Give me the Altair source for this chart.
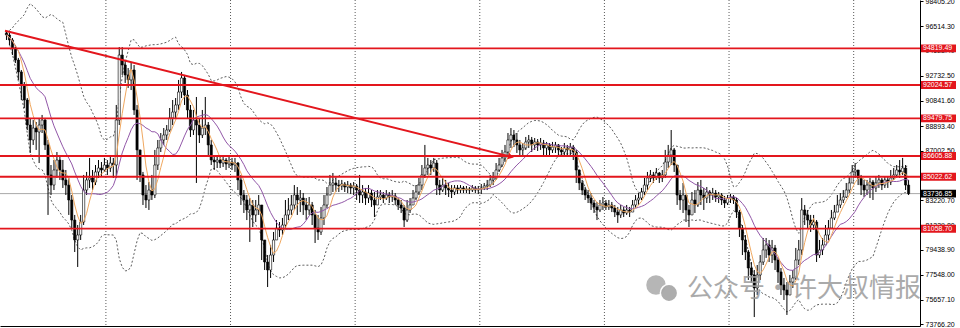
import altair as alt
import pandas as pd

# ---------------- data ----------------
closes = [
    95840, 95460, 94850, 93930, 93020, 92020, 90880, 88970, 87830, 88740,
    88440, 88970, 89350, 87450, 85160, 84390, 85540, 86300, 85540, 84780,
    84390, 83250, 81720, 80200, 80580, 81570, 84010, 84780, 84930, 84620,
    85390, 85690, 85540, 85920, 85690, 86070, 85920, 89350, 94310, 93550,
    92790, 92410, 93170, 90120, 87070, 85160, 83630, 83250, 84010, 83630,
    85920, 87220, 87830, 88210, 88590, 89510, 89960, 90500, 91490, 92560,
    91260, 90120, 88590, 89350, 88970, 88210, 88740, 88970, 87450, 86300,
    86150, 86300, 86070, 86300, 86000, 86150, 85920, 86070, 84780, 83630,
    83250, 82490, 82870, 82110, 82490, 82870, 80200, 78520, 77910, 79050,
    80200, 81110, 80960, 81340, 82110, 82490, 82870, 83630, 83250, 83400,
    82870, 82490, 82870, 82110, 81110, 80810, 81880, 82870, 83630, 84390,
    84550, 84390, 84320, 84470, 84240, 84390, 84170, 84320, 84010, 83630,
    83860, 83400, 83780, 83250, 82870, 83480, 83630, 83400, 83630, 83480,
    83560, 83250, 82870, 82640, 81720, 82490, 82870, 83400, 83860, 84390,
    85160, 85690, 85920, 85690, 86070, 84390, 84010, 84390, 84170, 84010,
    83860, 84170, 84010, 84170, 84010, 84090, 84010, 84170, 84010, 84090,
    84170, 84320, 84390, 84780, 84930, 85540, 85920, 86460, 86910, 87830,
    88210, 87830, 87450, 87070, 87220, 87680, 87830, 87450, 87680, 87450,
    87600, 87220, 87450, 87070, 87290, 87450, 87070, 86910, 87220, 87070,
    87290, 86910, 85540, 84550, 84010, 83630, 83400, 83020, 82720, 82490,
    82870, 83020, 82720, 82870, 82640, 82330, 82110, 82490, 82260, 82490,
    82330, 82870, 83250, 83400, 83860, 84390, 84930, 85160, 84930, 85310,
    84930, 85160, 86150, 86680, 87070, 85920, 83630, 83250, 83630, 82490,
    82110, 83250, 82870, 84010, 83630, 83400, 83860, 83630, 83780, 83480,
    83630, 83250, 83020, 83400, 83480, 83250, 82330, 81110, 80200, 79280,
    78060, 77530, 76540, 77530, 78520, 79440, 79820, 79050, 79590, 78670,
    77760, 76770, 76380, 76000, 76990, 77300, 78670, 79440, 82490, 82110,
    81720, 81340, 81570, 79050, 79440, 79820, 80580, 81110, 81880, 82330,
    82870, 83250, 83480, 84010, 84550, 85390, 85540, 84930, 84390, 84010,
    84390, 84620, 84170, 84550, 84780, 84390, 84780, 84620, 84930, 85160,
    85540, 85390, 85690, 84390, 83736.85,
]
highs = [
    96070, 95990, 95610, 95080, 94090, 93170, 92250, 91030, 89510, 89350,
    89200, 89510, 89740, 89510, 87830, 85920, 86300, 86910, 86680, 86300,
    85540, 84930, 83630, 82110, 81340, 82110, 85160, 85390, 86460, 85540,
    85920, 86300, 86150, 86460, 86300, 86530, 86460, 90500, 94920, 94920,
    93930, 93320, 93700, 93550, 90500, 87070, 85390, 84390, 84620, 85160,
    87070, 87830, 88360, 88740, 88970, 90270, 90880, 91030, 92410, 93020,
    92790, 91640, 90500, 90120, 91110, 89510, 90120, 91110, 89200, 87830,
    86680, 86680, 86530, 86610, 86460, 86530, 86460, 86460, 86150, 85160,
    84010, 83630, 83400, 83250, 83250, 83630, 82870, 80200, 79050, 79820,
    80810, 81720, 81570, 81880, 83250, 83400, 83630, 84390, 84240, 84010,
    83780, 83400, 83480, 83100, 82490, 82110, 82720, 83630, 84240, 85160,
    85310, 84930, 84780, 84780, 84620, 84700, 84550, 84620, 84470, 85160,
    84390, 84170, 84390, 84010, 83860, 84010, 84010, 83860, 84010, 83860,
    84010, 83780, 83400, 83250, 82870, 83250, 83400, 84010, 84390, 84930,
    85920, 87450, 86460, 86300, 86460, 86300, 84780, 84930, 84780, 84550,
    84390, 84390, 84390, 84390, 84320, 84320, 84240, 84390, 84320, 84320,
    84470, 84550, 84780, 85160, 85390, 86070, 86460, 87070, 87450, 88360,
    88740, 88590, 88360, 87830, 87600, 88060, 88210, 88060, 87980, 87900,
    87980, 87830, 87680, 87600, 87680, 87680, 87520, 87290, 87600, 87450,
    87600, 87450, 87070, 85390, 84780, 84240, 84010, 83780, 83250, 83100,
    83250, 83480, 83250, 83250, 83100, 82870, 82720, 82870, 82720, 82870,
    82720, 83250, 83630, 83780, 84170, 84930, 85390, 85540, 85390, 85690,
    85390, 85540, 87070, 87450, 88590, 87220, 85920, 84010, 84550, 83630,
    82870, 83860, 84010, 84620, 84780, 84170, 84240, 84010, 84170, 84010,
    83860, 83780, 83560, 83630, 83710, 83630, 83400, 82490, 81340, 80580,
    79440, 78520, 77910, 78290, 79050, 80350, 80350, 80200, 80200, 79820,
    78830, 78060, 77300, 76990, 77530, 77910, 79590, 80200, 83400, 82870,
    82490, 82110, 82110, 81720, 80200, 80350, 81340, 81720, 82490, 82870,
    83630, 83780, 84010, 84550, 85010, 85920, 86070, 85540, 85160, 84780,
    84780, 84930, 84780, 85010, 85160, 84930, 85080, 85010, 85540, 85690,
    85920, 86300, 86460, 85920, 84780,
]
lows = [
    95460, 95080, 94310, 93700, 92410, 90880, 90270, 88590, 86840, 87450,
    87070, 86070, 88360, 87070, 82110, 83630, 84010, 84930, 84780, 84170,
    83630, 82110, 81110, 79280, 78140, 80200, 81340, 83630, 84170, 84010,
    84390, 84930, 85010, 85390, 85160, 85390, 84930, 84930, 88970, 92790,
    92180, 91800, 91640, 89740, 84780, 84620, 82870, 82640, 82490, 83250,
    83400, 85540, 86910, 87450, 87830, 88440, 88970, 89510, 90120, 91030,
    90500, 89510, 88060, 88210, 84550, 87600, 87980, 88210, 86680, 85920,
    85540, 85690, 85690, 85770, 85540, 85690, 85540, 85390, 84010, 82870,
    82260, 81720, 80050, 81190, 81570, 82110, 78670, 77910, 76610, 77300,
    78520, 80200, 80430, 80580, 81110, 81720, 82110, 82490, 82110, 82330,
    82110, 81720, 82110, 81340, 79970, 80200, 80580, 81340, 82640, 83630,
    83860, 83860, 83860, 84010, 83860, 83780, 83710, 83630, 83250, 83020,
    83020, 82870, 83020, 82720, 81950, 83020, 83250, 83020, 83250, 83020,
    83100, 82870, 82490, 82260, 81190, 81570, 82260, 82870, 83250, 83630,
    84010, 84930, 85160, 85160, 85390, 83630, 83630, 83860, 83630, 83480,
    83400, 83630, 83710, 83780, 83780, 83780, 83710, 83860, 83780, 83710,
    83710, 84010, 84010, 84240, 84390, 84780, 85390, 85770, 86150, 86680,
    87220, 87290, 86840, 86530, 86530, 87070, 87220, 86910, 87070, 86990,
    87070, 86530, 86680, 86530, 86840, 86840, 86610, 86530, 86530, 86530,
    86680, 86300, 84550, 84010, 83630, 83250, 83020, 82490, 82260, 81720,
    82330, 82490, 82490, 82490, 82330, 81950, 81500, 81880, 81950, 82110,
    81950, 82330, 82640, 82870, 83250, 83630, 84010, 84620, 84550, 84780,
    84550, 84620, 84930, 85690, 85920, 85390, 82870, 82490, 82260, 81570,
    81190, 82260, 82260, 82720, 82870, 82490, 83020, 83020, 83250, 83100,
    83020, 82870, 82640, 82870, 83020, 82950, 81880, 80430, 79050, 78670,
    77150, 76920, 74320, 76000, 77150, 78290, 78830, 78520, 78440, 77910,
    76920, 76000, 75620, 74480, 76000, 76540, 77150, 78290, 79050, 81340,
    81110, 80810, 80960, 78520, 78830, 79050, 79820, 80200, 81110, 81720,
    82330, 82640, 83020, 83400, 83780, 84780, 84930, 84390, 83630, 83480,
    83630, 83400, 83250, 83860, 84170, 84010, 84170, 84170, 84390, 84780,
    84930, 84930, 85160, 84010, 83630,
]
first_open = 96000

levels = [94819.49, 92024.57, 89479.75, 86605.88, 85022.62, 81058.70]
last_price = 83736.85
axis_values = [98405.20, 96514.30, 94623.40, 92732.50, 90841.60, 88893.40,
               87002.50, 85111.60, 83220.70, 81329.80, 79438.90, 77548.00,
               75657.10, 73766.20]
week_bars = [33.5, 75.5, 117.5, 159.5, 201.5, 243.5, 285.5]
trend_bar = [-0.5, 170.0]
trend_price = [96170, 86550]
watermark = "公众号·许大叔情报"

# ---------------- build table ----------------
n = len(closes)
opens = [first_open] + closes[:-1]
df = pd.DataFrame({
    "i": list(range(n)),
    "open": opens,
    "close": closes,
    "high": [max(h, o, c) for h, o, c in zip(highs, opens, closes)],
    "low": [min(l, o, c) for l, o, c in zip(lows, opens, closes)],
})

W, H = 920, 326
RED = "#e3161d"
xscale = alt.Scale(domain=[-0.5, -0.5 + W / 3], nice=False, zero=False)
yscale = alt.Scale(domain=[73636, 98510], nice=False, zero=False)

XAXIS = alt.Axis(labels=False, ticks=False, grid=False, title=None,
                 domain=True, domainColor="#000000", domainWidth=1)
YAXIS = alt.Axis(orient="right", values=axis_values, format=".2f",
                 title=None, grid=False, labelFont="Liberation Sans",
                 labelFontSize=7, labelColor="#000000", tickColor="#000000",
                 tickSize=3, labelPadding=2, domainColor="#000000",
                 domainWidth=1, labelOverlap=False, labelFlush=False,
                 labelBound=False)
X = alt.X("i:Q", scale=xscale, axis=XAXIS, title=None)


def Y(field):
    return alt.Y(field, scale=yscale, axis=YAXIS, title=None)


base = alt.Chart(df)

# weekly separators
grid = alt.Chart(pd.DataFrame({"i": week_bars})).mark_rule(
    color="#5a5a5a", strokeWidth=1, strokeDash=[1, 2]
).encode(x=X)

# bollinger bands (dotted)
bb = base.transform_window(
    m20="mean(close)", s20="stdev(close)", frame=[-19, 0], sort=[alt.SortField("i")]
).transform_calculate(
    upper="datum.m20 + 2*datum.s20", lower="datum.m20 - 2*datum.s20"
).transform_fold(
    ["upper", "lower"], as_=["band", "value"]
).mark_line(color="#4a4a4a", strokeWidth=0.9, strokeDash=[2, 2], clip=True).encode(
    x=X, y=Y("value:Q"), detail="band:N"
)

# current price line
cur = alt.Chart(pd.DataFrame({"p": [last_price]})).mark_rule(
    color="#a8a8a8", strokeWidth=1
).encode(y=Y("p:Q"))

wick = base.mark_rule(color="#000000", strokeWidth=1, clip=True).encode(
    x=X, y=Y("low:Q"), y2="high:Q"
)
body = base.mark_bar(size=2.2, stroke="#000000", strokeWidth=0.6, clip=True).encode(
    x=X, y=Y("open:Q"), y2="close:Q",
    fill=alt.condition("datum.close >= datum.open", alt.value("#ffffff"), alt.value("#000000")),
)

ma_fast = base.transform_window(
    ma="mean(close)", frame=[-4, 0], sort=[alt.SortField("i")]
).mark_line(color="#f0a860", strokeWidth=1, clip=True).encode(x=X, y=Y("ma:Q"))

ma_slow = base.transform_window(
    ma="mean(close)", frame=[-13, 0], sort=[alt.SortField("i")]
).mark_line(color="#9257a8", strokeWidth=1, clip=True).encode(x=X, y=Y("ma:Q"))

lv = alt.Chart(pd.DataFrame({"p": levels}))
level_lines = lv.mark_rule(color=RED, strokeWidth=1.8).encode(y=Y("p:Q"))

tr = pd.DataFrame({"i": trend_bar, "p": trend_price})
trend = alt.Chart(tr).mark_line(color=RED, strokeWidth=2, clip=True).encode(
    x=X, y=Y("p:Q")
)
arrow = alt.Chart(tr.tail(1)).mark_point(
    shape="triangle-right", filled=True, color=RED, size=45, angle=14, opacity=1
).encode(x=X, y=Y("p:Q"))

# price boxes on the axis
boxes = lv.transform_calculate(lo="datum.p - 300", hi="datum.p + 300").mark_rect(
    color=RED
).encode(x=alt.value(921), x2=alt.value(956), y=Y("lo:Q"), y2="hi:Q")
box_txt = lv.mark_text(
    align="left", baseline="middle", fontSize=7, font="Liberation Sans", color="#ffffff"
).encode(x=alt.value(923), y=Y("p:Q"), text=alt.Text("p:Q", format=".2f"))

cp = alt.Chart(pd.DataFrame({"p": [last_price]}))
cur_box = cp.transform_calculate(lo="datum.p - 300", hi="datum.p + 300").mark_rect(
    color="#000000"
).encode(x=alt.value(921), x2=alt.value(956), y=Y("lo:Q"), y2="hi:Q")
cur_txt = cp.mark_text(
    align="left", baseline="middle", fontSize=7, font="Liberation Sans", color="#ffffff"
).encode(x=alt.value(923), y=Y("p:Q"), text=alt.Text("p:Q", format=".2f"))

# watermark
wm = pd.DataFrame({"t": [watermark]})
icon1 = alt.Chart(wm).mark_point(filled=True, color="#a9a9a9", size=380, opacity=0.85).encode(
    x=alt.value(656), y=alt.value(285))
icon2 = alt.Chart(wm).mark_point(filled=True, color="#a9a9a9", size=300, opacity=0.95,
                                 stroke="#ffffff", strokeWidth=1.5).encode(
    x=alt.value(669), y=alt.value(293))
wm_txt = alt.Chart(wm).mark_text(
    align="left", baseline="middle", fontSize=26, font="Noto Sans CJK SC",
    color="#9c9c9c", opacity=0.85
).encode(x=alt.value(687), y=alt.value(289), text="t:N")

chart = alt.layer(
    grid, bb, cur, wick, body, ma_slow, ma_fast, level_lines, trend, arrow,
    boxes, box_txt, cur_box, cur_txt, icon1, icon2, wm_txt
).properties(
    width=W, height=H,
    padding={"left": 0, "top": 0, "right": 40, "bottom": 2},
    autosize=alt.AutoSizeParams(type="none"),
    background="#ffffff",
).configure_view(stroke=None)

chart.save("out.html", embed_options={"renderer": "svg", "actions": False})
